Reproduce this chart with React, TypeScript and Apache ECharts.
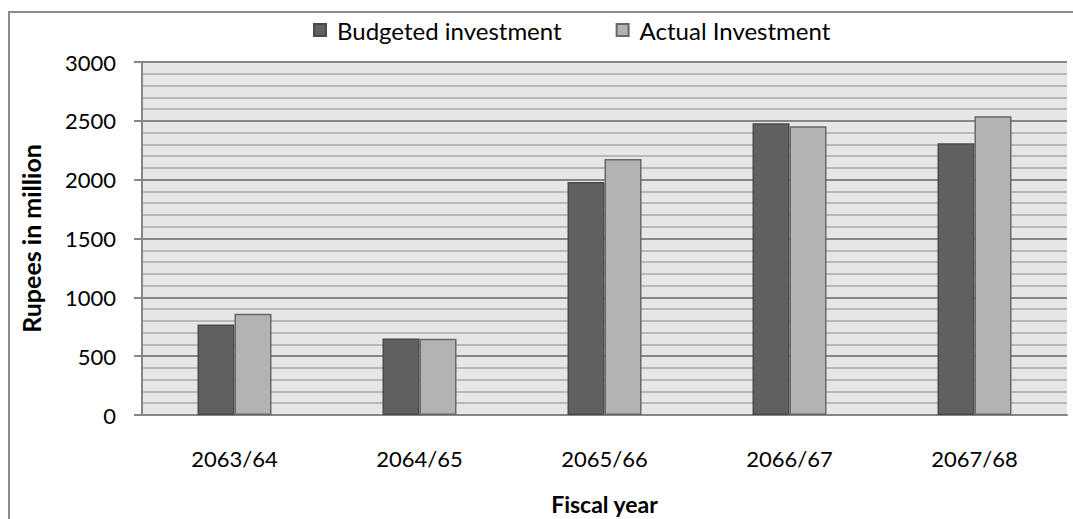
import React, { useEffect, useRef } from "react";
import * as echarts from "echarts";

const categories = ["2063/64", "2064/65", "2065/66", "2066/67", "2067/68"];
const budgeted = [770, 650, 1980, 2480, 2310];
const actual = [860, 648, 2175, 2455, 2540];
const seriesNames = ["Budgeted investment", "Actual Investment"];
const FONT = "Lato, 'Open Sans', sans-serif";

export default function App() {
  const ref = useRef<HTMLDivElement>(null);
  useEffect(() => {
    document.body.style.margin = "0";
    const chart = echarts.init(ref.current!, null, { renderer: "svg" });
    chart.setOption({
      animation: false,
      backgroundColor: "#ffffff",
      textStyle: { fontFamily: FONT },
      graphic: [
        {
          type: "rect",
          shape: { x: 9, y: 12, width: 1200, height: 600 },
          style: { fill: "none", stroke: "#8c8c8c", lineWidth: 2 },
          silent: true,
          z: -1,
        },
      ],
      legend: {
        left: 308,
        top: 13,
        itemWidth: 12,
        itemHeight: 12,
        itemGap: 54,
        icon: "rect",
        textStyle: { fontSize: 24, color: "#000", fontFamily: FONT, padding: [0, 0, 0, 6] },
        data: seriesNames,
      },
      grid: {
        left: 142,
        top: 62,
        right: 6,
        bottom: 104,
        show: true,
        backgroundColor: "#e6e6e6",
        borderWidth: 0,
        containLabel: false,
        outerBoundsMode: "none",
      },
      xAxis: {
        type: "category",
        data: categories,
        name: "Fiscal year",
        nameLocation: "middle",
        nameGap: 77,
        nameTextStyle: { fontSize: 23, fontWeight: "bold", color: "#000", fontFamily: FONT },
        axisLine: { lineStyle: { color: "#868686", width: 2 } },
        axisTick: { show: false },
        axisLabel: { fontSize: 22, color: "#000", margin: 32, fontFamily: FONT },
      },
      yAxis: {
        type: "value",
        min: 0,
        max: 3000,
        interval: 500,
        name: "Rupees in million",
        nameLocation: "middle",
        nameGap: 99,
        nameTextStyle: { fontSize: 25, fontWeight: "bold", color: "#000", fontFamily: FONT },
        axisLine: { show: true, lineStyle: { color: "#868686", width: 2 } },
        axisTick: { show: true, length: 8, lineStyle: { color: "#868686", width: 2 } },
        axisLabel: {
          fontSize: 22,
          color: "#000",
          margin: 26,
          fontFamily: FONT,
          formatter: (v: number) => String(v),
        },
        splitLine: { lineStyle: { color: "#868686", width: 2 } },
        minorTick: { show: false, splitNumber: 5 },
        minorSplitLine: { show: true, lineStyle: { color: "#b8b8b8", width: 2 } },
      },
      series: [
        {
          name: seriesNames[0],
          type: "bar",
          data: budgeted,
          barWidth: "20%",
          barGap: "0%",
          itemStyle: { color: "#606060", borderColor: "#4a4a4a", borderWidth: 1.5 },
        },
        {
          name: seriesNames[1],
          type: "bar",
          data: actual,
          barWidth: "20%",
          barGap: "0%",
          itemStyle: { color: "#b3b3b3", borderColor: "#686868", borderWidth: 1.5 },
        },
      ],
    });
    return () => chart.dispose();
  }, []);
  return <div ref={ref} style={{ width: 1073, height: 519 }} />;
}
